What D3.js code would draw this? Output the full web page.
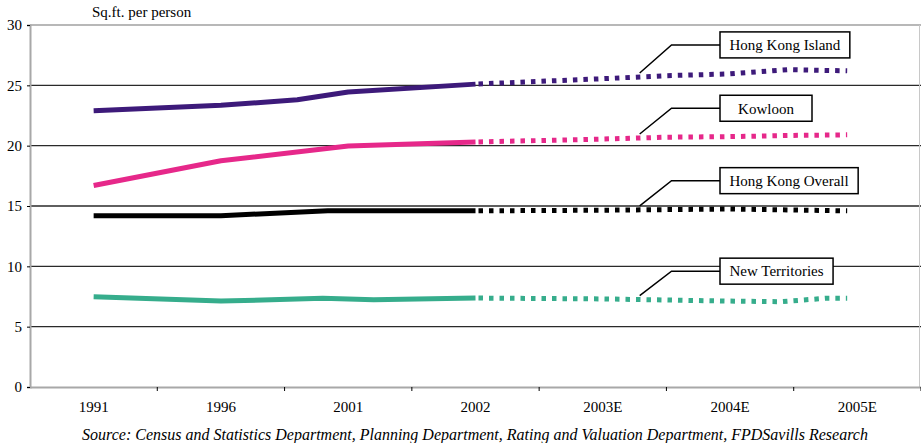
<!DOCTYPE html>
<html>
<head>
<meta charset="utf-8">
<script src="https://cdn.jsdelivr.net/npm/d3@7"></script>
<style>
  html, body { margin: 0; padding: 0; background: #fff; }
  svg { display: block; font-family: "Liberation Serif", "Times New Roman", serif; }
</style>
</head>
<body>
<svg id="chart" width="921" height="443"></svg>
<script>
// Category labels on the x axis and the year each one stands for
const categories = ["1991", "1996", "2001", "2002", "2003E", "2004E", "2005E"];
const categoryYears = [1991, 1996, 2001, 2002, 2003, 2004, 2005];

// Y axis ticks (sq.ft. per person)
const yTicks = [0, 5, 10, 15, 20, 25, 30];

// Series: [year, sq.ft. per person]; actual = solid, forecast = dotted
const islandActual   = [[1991, 22.9], [1996, 23.35], [1999, 23.8], [2001, 24.45], [2002, 25.1]];
const islandForecast = [[2002, 25.1], [2003, 25.55], [2003.5, 25.8], [2004, 25.95], [2004.45, 26.3], [2004.92, 26.2]];

const kowloonActual   = [[1991, 16.7], [1996, 18.75], [2001, 19.97], [2002, 20.3]];
const kowloonForecast = [[2002, 20.3], [2003, 20.55], [2003.5, 20.7], [2004, 20.75], [2004.5, 20.85], [2004.92, 20.9]];

const overallActual   = [[1991, 14.2], [1996, 14.2], [2000.2, 14.6], [2002, 14.6]];
const overallForecast = [[2002, 14.6], [2003, 14.65], [2004, 14.75], [2004.92, 14.6]];

const ntActual   = [[1991, 7.48], [1996, 7.12], [2000, 7.35], [2001.2, 7.23], [2002, 7.37]];
const ntForecast = [[2002, 7.37], [2003, 7.3], [2004, 7.12], [2004.4, 7.07], [2004.75, 7.35], [2004.92, 7.35]];

const seriesNames = ["Hong Kong Island", "Kowloon", "Hong Kong Overall", "New Territories"];

const series = [
  { name: seriesNames[0], actual: islandActual,  forecast: islandForecast,  color: "#3d1a7a" },
  { name: seriesNames[1], actual: kowloonActual, forecast: kowloonForecast, color: "#e6288a" },
  { name: seriesNames[2], actual: overallActual, forecast: overallForecast, color: "#000000" },
  { name: seriesNames[3], actual: ntActual,      forecast: ntForecast,      color: "#36ad8c" }
];

const sourceText = "Source: Census and Statistics Department, Planning Department, Rating and Valuation Department, FPDSavills Research";

// ---- layout ----
const svg = d3.select("#chart");
const margin = { left: 30, right: 0, top: 25, bottom: 56 };
const W = 921, H = 443;
const plotBottom = H - margin.bottom; // 387

const band = d3.scaleBand().domain(categories).range([margin.left, W - margin.right]).padding(0);
const centers = categories.map(c => band(c) + band.bandwidth() / 2);
const x = d3.scaleLinear().domain(categoryYears).range(centers);
const y = d3.scaleLinear().domain([0, 30]).range([plotBottom, margin.top]);

// gridlines
svg.append("g")
  .selectAll("line")
  .data(yTicks.filter(v => v > 0))
  .join("line")
  .attr("x1", margin.left).attr("x2", W)
  .attr("y1", d => y(d)).attr("y2", d => y(d))
  .attr("stroke", d => d === 30 ? "#a0a0a0" : "#2a2a2a")
  .attr("stroke-width", 1.3);

// right border of the plot area
svg.append("line")
  .attr("x1", W - 1.5).attr("x2", W - 1.5)
  .attr("y1", y(30)).attr("y2", plotBottom)
  .attr("stroke", "#c8c8c8").attr("stroke-width", 1);

// y axis
const yAxis = svg.append("g")
  .attr("transform", `translate(${margin.left},0)`)
  .call(d3.axisLeft(y).tickValues(yTicks).tickSize(3).tickPadding(5).tickFormat(d3.format("d")));
yAxis.select(".domain").attr("stroke", "#a8a8a8").attr("stroke-width", 2);
yAxis.selectAll(".tick line").attr("stroke", "#000");
yAxis.selectAll(".tick text")
  .attr("font-family", "Liberation Serif, serif").attr("font-size", 15).attr("fill", "#000");

// x axis: labels centred in categories, tick marks on the boundaries
const xAxis = svg.append("g")
  .attr("transform", `translate(0,${plotBottom})`)
  .call(d3.axisBottom(band).tickSize(0).tickPadding(14));
xAxis.select(".domain").attr("stroke", "#a8a8a8").attr("stroke-width", 2);
xAxis.selectAll(".tick text")
  .attr("font-family", "Liberation Serif, serif").attr("font-size", 15).attr("fill", "#000");

svg.append("g")
  .selectAll("line")
  .data(categories.map(c => band(c)).concat([band(categories[categories.length - 1]) + band.bandwidth()]).slice(1))
  .join("line")
  .attr("x1", d => d).attr("x2", d => d)
  .attr("y1", plotBottom).attr("y2", plotBottom + 4)
  .attr("stroke", "#000").attr("stroke-width", 1);

// y axis title
svg.append("text")
  .attr("x", 92).attr("y", 17)
  .attr("font-size", 15).attr("fill", "#000")
  .text("Sq.ft. per person");

// lines
const line = d3.line().x(d => x(d[0])).y(d => y(d[1]));
const lines = svg.append("g");
series.forEach(s => {
  lines.append("path")
    .attr("d", line(s.actual))
    .attr("fill", "none").attr("stroke", s.color)
    .attr("stroke-width", 5).attr("stroke-linejoin", "round");
  lines.append("path")
    .attr("d", line(s.forecast))
    .attr("fill", "none").attr("stroke", s.color)
    .attr("stroke-width", 5).attr("stroke-dasharray", "4.5,6").attr("stroke-dashoffset", -3);
});

// callout labels with leader lines
function valueAt(points, yr) {
  for (let i = 1; i < points.length; i++) {
    if (yr <= points[i][0]) {
      const [x0, v0] = points[i - 1], [x1, v1] = points[i];
      return v0 + (v1 - v0) * (yr - x0) / (x1 - x0);
    }
  }
  return points[points.length - 1][1];
}
const calloutLevels = [28.35, 23.1, 17.1, 9.6];   // vertical placement of each box, in axis units
const leaderYear = 2003.29, elbowYear = 2003.54, boxLeft = 720, boxH = 26;

const callouts = svg.append("g");
series.forEach((s, i) => {
  const cy = y(calloutLevels[i]);
  const g = callouts.append("g");
  const t = g.append("text")
    .attr("y", cy).attr("dy", "0.35em")
    .attr("font-size", 15).attr("fill", "#000")
    .attr("text-anchor", "middle")
    .text(s.name);
  const tw = t.node().getComputedTextLength();
  const bw = Math.max(tw + 19, 92);
  t.attr("x", boxLeft + bw / 2);
  g.insert("rect", "text")
    .attr("x", boxLeft).attr("y", cy - boxH / 2)
    .attr("width", bw).attr("height", boxH)
    .attr("fill", "#fff").attr("stroke", "#000").attr("stroke-width", 1.5);
  const endV = valueAt(s.forecast, leaderYear);
  g.insert("polyline", "rect")
    .attr("points", [[boxLeft, cy], [x(elbowYear), cy], [x(leaderYear), y(endV) - 4]].map(p => p.join(",")).join(" "))
    .attr("fill", "none").attr("stroke", "#000").attr("stroke-width", 1.5);
});

// source note
svg.append("text")
  .attr("x", 475).attr("y", 440)
  .attr("text-anchor", "middle")
  .attr("font-size", 16).attr("font-style", "italic").attr("fill", "#000")
  .text(sourceText);
</script>
</body>
</html>
